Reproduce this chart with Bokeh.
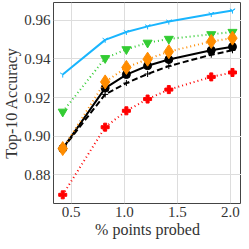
from bokeh.plotting import figure
from bokeh.embed import file_html
from bokeh.resources import INLINE
from bokeh.models import FixedTicker, Range1d

x = [0.42, 0.82, 1.02, 1.22, 1.42, 1.82, 2.02]
cyan_y = [0.9319, 0.9499, 0.9540, 0.9569, 0.9594, 0.9633, 0.9651]
green_y = [0.9126, 0.9404, 0.9450, 0.9484, 0.9504, 0.9528, 0.9540]
orange_y = [0.8935, 0.9281, 0.9356, 0.9399, 0.9438, 0.9491, 0.9508]
black_y = [0.8935, 0.9249, 0.9319, 0.9365, 0.9397, 0.9445, 0.9463]
dashed_y = [0.8935, 0.9216, 0.9275, 0.9322, 0.9363, 0.9422, 0.9445]
red_y = [0.8695, 0.9046, 0.9131, 0.9192, 0.9241, 0.9307, 0.9330]
xticks = [0.5, 1.0, 1.5, 2.0]
yticks = [0.88, 0.90, 0.92, 0.94, 0.96]

FONT = "Liberation Serif"

p = figure(width=241, height=240, output_backend="svg", toolbar_location=None,
           x_range=Range1d(0.333, 2.105), y_range=Range1d(0.865, 0.9693),
           min_border_left=37, min_border_right=0, min_border_top=2, min_border_bottom=30)

p.outline_line_color = "#444444"
p.outline_line_width = 1
for ax in (p.xaxis[0], p.yaxis[0]):
    ax.axis_line_color = None
    ax.major_tick_line_color = None
    ax.minor_tick_line_color = None
    ax.major_tick_out = 0
    ax.major_tick_in = 0
    ax.minor_tick_out = 0
    ax.minor_tick_in = 0
    ax.major_label_text_font = FONT
    ax.major_label_text_font_size = "15px"
    ax.major_label_text_color = "#333333"
    ax.axis_label_text_font = FONT
    ax.axis_label_text_font_size = "16px"
    ax.axis_label_text_font_style = "normal"
    ax.axis_label_text_color = "#333333"
    ax.major_label_standoff = 3
    ax.axis_label_standoff = 1

p.xaxis.ticker = FixedTicker(ticks=xticks)
p.yaxis.ticker = FixedTicker(ticks=yticks)
p.xaxis.major_label_overrides = {t: f"{t:.1f}" for t in xticks}
p.yaxis.major_label_overrides = {t: f"{t:.2f}" for t in yticks}
p.xaxis.axis_label = "% points probed"
p.yaxis.axis_label = "Top-10 Accuracy"

p.xgrid.ticker = FixedTicker(ticks=xticks)
p.ygrid.ticker = FixedTicker(ticks=yticks)
p.grid.grid_line_color = "#dddddd"
p.grid.grid_line_width = 1

CYAN = "#19b5fe"
GREEN = "#33cc33"
ORANGE = "#ff8c00"
RED = "#ff0000"

p.line(x, cyan_y, line_color=CYAN, line_width=2)
p.scatter(x, cyan_y, marker="y", size=6, line_color=CYAN, line_width=1)

p.line(x, green_y, line_color=GREEN, line_width=2, line_dash="1 3")
p.scatter(x, green_y, marker="inverted_triangle", size=9, fill_color=GREEN, line_color=GREEN)

p.line(x, dashed_y, line_color="black", line_width=2, line_dash="6 3")
p.scatter(x, dashed_y, marker="cross", size=6, line_color="black", line_width=1)

p.line(x, black_y, line_color="black", line_width=2)
p.scatter(x, black_y, marker="circle", size=8, fill_color="black", line_color="black")
p.line(x, orange_y, line_color=ORANGE, line_width=2, line_dash="1 3")
p.scatter(x, orange_y, marker="diamond", size=14, fill_color=ORANGE, line_color=ORANGE)

p.line(x, red_y, line_color=RED, line_width=2, line_dash="1 3")
p.scatter(x, red_y, marker="plus", size=8, fill_color=RED, line_color=RED)

open("out.html", "w").write(file_html(p, INLINE))
